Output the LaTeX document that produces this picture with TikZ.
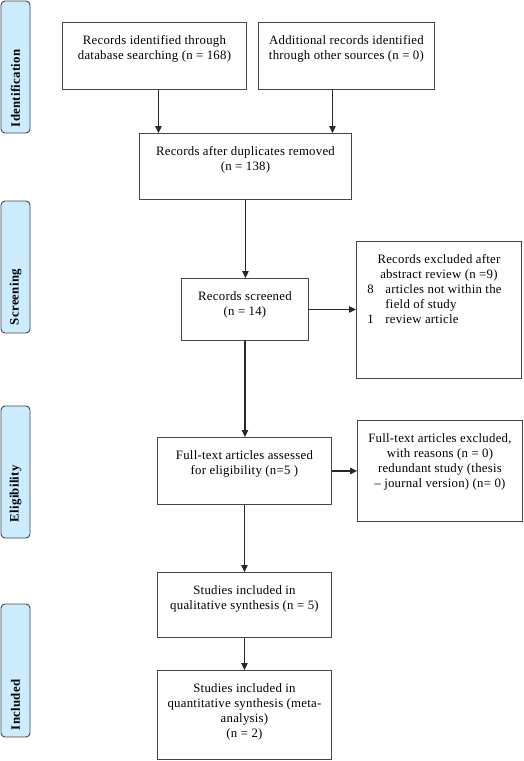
\documentclass[tikz,border=0pt]{standalone}
\usepackage{fontspec}
\setmainfont{Liberation Serif}[LetterSpace=2]
\usetikzlibrary{arrows.meta}
\definecolor{sidefill}{RGB}{204,236,255}
\definecolor{linegray}{RGB}{70,70,70}
\definecolor{arrgray}{RGB}{40,40,40}
\newcommand{\bxt}[3]{\parbox[c][#2][t]{#1}{\centering\rule{0pt}{22pt}#3\par}}
\begin{document}
\begin{tikzpicture}[x=1pt,y=-1pt,
  every node/.style={font=\fontsize{12.8}{15}\selectfont},
  stagebox/.style={draw=linegray, line width=0.9pt, fill=sidefill, rounded corners=4pt,
     rotate=90, inner sep=0pt, minimum height=29pt, font=\fontsize{12.8}{15}\selectfont\bfseries},
  flowbox/.style={draw=linegray, line width=0.9pt, inner sep=0pt, anchor=north west},
  arr/.style={draw=arrgray, line width=1.1pt, -{Triangle[length=7pt,width=6.5pt]}}]
\useasboundingbox (0,0) rectangle (524,761);
% stage labels
\node[stagebox, minimum width=132pt] (sid) at (15.5,67) {\makebox[132pt][l]{\hspace{6pt}Identification}};
\node[stagebox, minimum width=132pt] (sscr) at (15.5,267) {\makebox[132pt][l]{\hspace{8pt}Screening}};
\node[stagebox, minimum width=132pt] (selg) at (15.5,472) {\makebox[132pt][l]{\hspace{16pt}Eligibility}};
\node[stagebox, minimum width=133pt] (sinc) at (15.5,670.5) {\makebox[133pt][l]{\hspace{7pt}Included}};
% boxes
\node[flowbox] (b1) at (62,22) {\bxt{184pt}{67pt}{Records identified through\\database searching (n = 168)}};
\node[flowbox] (b2) at (258,22) {\bxt{176pt}{67pt}{Additional records identified\\through other sources (n = 0)}};
\node[flowbox] (b3) at (139,133) {\bxt{212pt}{66pt}{Records after duplicates removed\\(n = 138)}};
\node[flowbox] (b4) at (181,278) {\bxt{127pt}{62pt}{Records screened\\(n = 14)}};
\node[flowbox] (b5) at (356,241) {\parbox[c][137pt][t]{165pt}{\centering\rule{0pt}{22pt}Records excluded after\\abstract review (n =9)\par
  \raggedright\hspace*{11pt}\makebox[18pt][l]{8}articles not within the\\
  \hspace*{29pt}field of study\\
  \hspace*{11pt}\makebox[18pt][l]{1}review article\par}};
\node[flowbox] (b6) at (157,437) {\bxt{174pt}{67pt}{Full-text articles assessed\\for eligibility (n=5 )}};
\node[flowbox] (b7) at (357,420) {\bxt{165pt}{101pt}{Full-text articles excluded,\\with reasons (n = 0)\\redundant study (thesis\\ – journal version) (n= 0)}};
\node[flowbox] (b8) at (157,572) {\bxt{174pt}{65pt}{Studies included in\\qualitative synthesis (n = 5)}};
\node[flowbox] (b9) at (157,670) {\bxt{174pt}{89pt}{Studies included in\\quantitative synthesis (meta-\\analysis)\\(n = 2)}};
% arrows
\draw[arr] ([xshift=4pt]b1.south) -- ([xshift=4pt]b1.south |- b3.north);
\draw[arr] ([xshift=-14pt]b2.south) -- ([xshift=-14pt]b2.south |- b3.north);
\draw[arr] (b3.south) -- (b3.south |- b4.north);
\draw[arr] (b4.east) -- (b4.east -| b5.west);
\draw[arr] (b4.south) -- (b4.south |- b6.north);
\draw[arr] (b6.east) -- (b6.east -| b7.west);
\draw[arr] (b6.south) -- (b8.north);
\draw[arr] (b8.south) -- (b9.north);
\end{tikzpicture}
\end{document}
